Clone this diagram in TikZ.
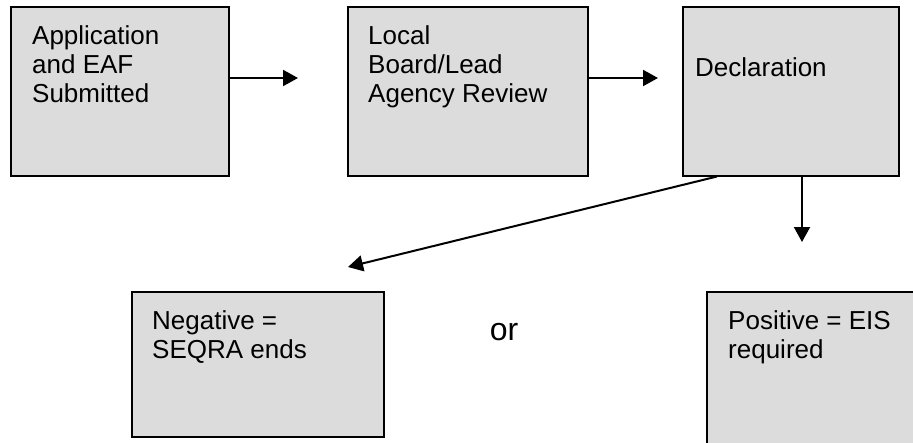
\documentclass[tikz,border=0pt]{standalone}
\usepackage{fontspec}
\setmainfont{Liberation Sans}
\usetikzlibrary{arrows.meta,calc}

\tikzset{
  stage/.style={draw=black, line width=1.5pt, fill=boxgray, rectangle,
    inner sep=0pt, anchor=north west},
  stagetext/.style={anchor=north west, inner sep=0pt, align=left,
    font=\fontsize{26}{29}\selectfont},
  flow/.style={line width=2pt, -{Triangle[length=15pt,width=16pt]}},
}
\definecolor{boxgray}{RGB}{220,220,220}

\begin{document}
\begin{tikzpicture}[x=1pt, y=-1pt]
  \clip (0,0) rectangle (913,442);
  \fill[white] (0,0) rectangle (913,442);

  % top row of stages
  \node[stage, minimum width=218pt, minimum height=169pt] (app) at (10,6) {};
  \node[stage, minimum width=240pt, minimum height=169pt] (rev) at (347,6) {};
  \node[stage, minimum width=216pt, minimum height=169pt] (dec) at (682,6) {};

  % outcomes
  \node[stage, minimum width=252pt, minimum height=145pt] (neg) at (131,291) {};
  \node[stage, minimum width=230pt, minimum height=170pt] (pos) at (706,291) {};

  % labels
  \node[stagetext] (appt) at ($(app.north west)+(22,19)$) {Application\\and EAF\\Submitted};
  \node[stagetext] (revt) at ($(rev.north west)+(21,19)$) {Local\\Board/Lead\\Agency Review};
  \node[stagetext] (dect) at ($(dec.north west)+(13,51)$) {Declaration};
  \node[stagetext] (negt) at ($(neg.north west)+(21,19)$) {Negative =\\SEQRA ends};
  \node[stagetext] (post) at ($(pos.north west)+(22,19)$) {Positive = EIS\\required};
  \node[font=\fontsize{32}{36}\selectfont, inner sep=0pt] (or) at (504,332) {or};

  % free arrow ends
  \coordinate (a1) at (298,78);
  \coordinate (a2) at (658,78);
  \coordinate (a3) at (348,267);
  \coordinate (a4) at (802,242);

  % connectors
  \draw[flow] (app.east |- a1) -- (a1);
  \draw[flow] (rev.east |- a2) -- (a2);
  \draw[flow] ($(dec.south west)+(35,0)$) -- (a3);
  \draw[flow] (dec.south -| a4) -- (a4);
\end{tikzpicture}
\end{document}
